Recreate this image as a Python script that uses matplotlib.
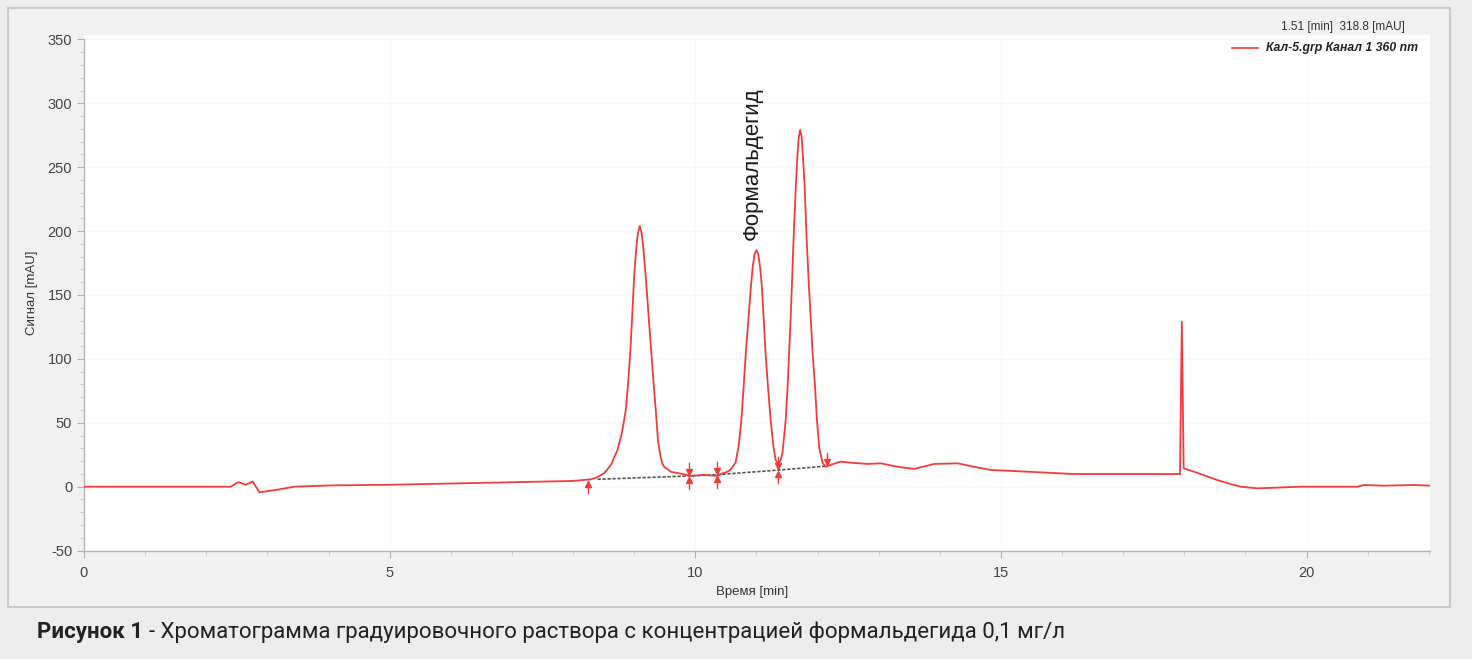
import matplotlib
matplotlib.use("Agg")
import matplotlib.pyplot as plt
from matplotlib.patches import Rectangle
from matplotlib.ticker import MultipleLocator

plt.rcParams["font.family"] = ["Liberation Sans", "DejaVu Sans"]
plt.rcParams["axes.unicode_minus"] = False

# ---- data ----
time_min = [0.0, 1.0, 2.0, 2.40, 2.525, 2.65, 2.76, 2.87, 3.17, 3.44, 4.04, 5.0, 6.0, 7.0, 8.0,
            8.296, 8.40, 8.509, 8.62, 8.727, 8.80, 8.864, 8.91, 8.945, 8.975, 9.00, 9.03, 9.06,
            9.092, 9.12, 9.15, 9.19, 9.23, 9.27, 9.31, 9.354, 9.39, 9.43, 9.46, 9.49, 9.60, 9.87,
            9.90, 10.14, 10.36, 10.417, 10.526, 10.58, 10.66, 10.71, 10.755, 10.79, 10.826,
            10.87, 10.91, 10.94, 10.97, 11.0, 11.03, 11.06, 11.09, 11.12, 11.15, 11.19, 11.233,
            11.28, 11.315, 11.354, 11.39, 11.426, 11.48, 11.51, 11.535, 11.56, 11.58, 11.61,
            11.645, 11.67, 11.69, 11.715, 11.74, 11.76, 11.79, 11.82, 11.86, 11.89, 11.92, 11.96,
            11.99, 12.03, 12.08, 12.13, 12.21, 12.375, 12.54, 12.82, 13.03, 13.31, 13.58, 13.91,
            14.29, 14.56, 14.83, 15.54, 16.20, 17.18, 17.91, 17.93, 17.96, 17.99, 18.16, 18.35,
            18.54, 18.75, 18.92, 19.20, 19.90, 20.83, 20.94, 21.27, 21.76, 22.03]
signal_mau = [0.0, 0.0, 0.0, 0.0, 3.6, 1.5, 4.1, -4.4, -2.3, 0.0, 1.0, 1.5, 2.5, 3.5, 4.5,
              5.8, 7.5, 10.5, 17.0, 28.7, 42.0, 60.0, 86.0, 112.2, 140.0, 164.3, 184.0, 198.0,
              204.0, 199.0, 187.0, 164.3, 138.0, 112.2, 86.0, 60.0, 36.0, 24.0, 18.3, 15.6, 11.7,
              9.2, 8.4, 9.2, 8.4, 9.9, 11.7, 13.5, 19.0, 32.0, 52.2, 77.0, 104.4,
              131.0, 156.5, 172.0, 182.0, 185.1, 182.0, 172.0, 156.5, 131.0, 104.4, 78.0, 52.2,
              31.0, 20.9, 18.3, 20.0, 26.1, 52.2, 78.0, 104.4, 131.0, 156.5, 196.0,
              234.7, 258.0, 272.0, 279.1, 274.0, 260.0, 234.7, 196.0, 156.5, 131.0, 104.4, 78.0,
              52.2, 30.0, 19.0, 15.6, 17.0, 19.6, 18.8, 17.8, 18.3, 15.6, 13.9, 17.8,
              18.3, 15.6, 13.1, 11.5, 9.9, 9.9, 9.9, 9.9, 129.1, 14.4, 11.7, 8.5,
              5.2, 2.2, 0.0, -1.3, 0.0, 0.0, 1.3, 0.8, 1.3, 0.8]

baseline_t = [8.40, 9.90, 10.36, 11.36, 12.16]
baseline_y = [5.8, 8.4, 9.4, 13.0, 16.2]

marker_t = [8.25, 9.90, 10.36, 11.36, 12.16]
marker_y = [5.0, 8.4, 9.0, 13.0, 16.0]
marker_kind = ["up", "both", "both", "both", "down"]

peak_label = "Формальдегид"
peak_label_t = 10.93
peak_label_y = 193

x_ticks = [0, 5, 10, 15, 20]
y_ticks = [-50, 0, 50, 100, 150, 200, 250, 300, 350]

RED = "#f03c3c"

W, H = 1472, 659
fig = plt.figure(figsize=(W / 100, H / 100), dpi=100, facecolor="#ececec")

# outer panel
fig.patches.append(Rectangle((8 / W, 1 - 607 / H), (1450 - 8) / W, (607 - 8) / H,
                             transform=fig.transFigure, facecolor="#f1f1f1",
                             edgecolor="#c9c9c9", lw=1.5, zorder=-5))
# white plot region (slightly taller than the axes, as in the reference)
fig.patches.append(Rectangle((84 / W, 1 - 551 / H), (1430 - 84) / W, (551 - 35) / H,
                             transform=fig.transFigure, facecolor="white",
                             edgecolor="none", zorder=-4))

ax = fig.add_axes([84 / W, 1 - 550.6 / H, (1430 - 84) / W, (550.6 - 39.4) / H])
ax.set_zorder(2)
ax.set_facecolor("white")
ax.set_xlim(0, 22.02)
ax.set_ylim(-50, 350)

for s in ["top", "right"]:
    ax.spines[s].set_visible(False)
for s in ["left", "bottom"]:
    ax.spines[s].set_color("#b5b5b5")
    ax.spines[s].set_linewidth(1.0)

ax.set_xticks(x_ticks)
ax.set_yticks(y_ticks)
ax.xaxis.set_minor_locator(MultipleLocator(1))
ax.yaxis.set_minor_locator(MultipleLocator(10))
ax.tick_params(axis="both", which="major", length=5, color="#b0b0b0",
               labelsize=10.5, labelcolor="#444444")
ax.tick_params(axis="both", which="minor", length=3, color="#c8c8c8")
ax.tick_params(axis="x", pad=6)

ax.grid(True, which="major", color="#f8f8f8", lw=1.0)
ax.set_axisbelow(True)

ax.set_xlabel("Время [min]", fontsize=9.5, color="#333333")
ax.set_ylabel("Сигнал [mAU]", fontsize=9.5, color="#333333")
ax.xaxis.set_label_coords((752 - 84) / 1346, -(586 - 550.6) / 511.2)
ax.yaxis.set_label_coords(-(84 - 38) / 1346, (550.6 - 293) / 511.2)

# dashed integration baseline
ax.plot(baseline_t, baseline_y, color="#555555", lw=1.2, ls=(0, (2, 1)), zorder=2)

# signal
line, = ax.plot(time_min, signal_mau, color=RED, lw=1.3, zorder=3)

# integration markers
for t, y, k in zip(marker_t, marker_y, marker_kind):
    if k in ("up", "both"):
        ax.plot([t, t], [y - 10, y - 2], color=RED, lw=1.0, zorder=4)
        ax.plot([t], [y - 3], marker="^", ms=4.5, color=RED, mec=RED, zorder=4)
    if k in ("down", "both"):
        ax.plot([t, t], [y + 2, y + 10], color=RED, lw=1.0, zorder=4)
        ax.plot([t], [y + 3], marker="v", ms=4.5, color=RED, mec=RED, zorder=4)

ax.text(peak_label_t, peak_label_y, peak_label, rotation=90, ha="center", va="bottom",
        fontsize=16, color="#1a1a1a", zorder=5)

# cursor readout + legend
fig.text(1405 / W, 1 - 27 / H, "1.51 [min]  318.8 [mAU]", ha="right", va="center",
         fontsize=8.5, color="#333333", zorder=5)
fig.add_artist(plt.Line2D([1232 / W, 1258 / W], [1 - 48 / H, 1 - 48 / H], color=RED, lw=1.2,
                          transform=fig.transFigure, zorder=5))
fig.text(1266 / W, 1 - 48 / H, "Кал-5.grp Канал 1 360 nm", ha="left", va="center",
         fontsize=8.8, weight="bold", style="italic", color="#222222", zorder=5)

# caption
renderer = fig.canvas.get_renderer()
t1 = fig.text(37 / W, 1 - 632 / H, "Рисунок 1", ha="left", va="center", fontsize=16,
              family="Roboto", weight="bold", color="#222222")
bb = t1.get_window_extent(renderer=renderer)
fig.text(bb.x1 / W + 6 / W, 1 - 632 / H,
         "- Хроматограмма градуировочного раствора с концентрацией формальдегида 0,1 мг/л",
         ha="left", va="center", fontsize=16.0, family="Roboto", color="#222222")

fig.savefig("out.png", dpi=100, facecolor=fig.get_facecolor())
